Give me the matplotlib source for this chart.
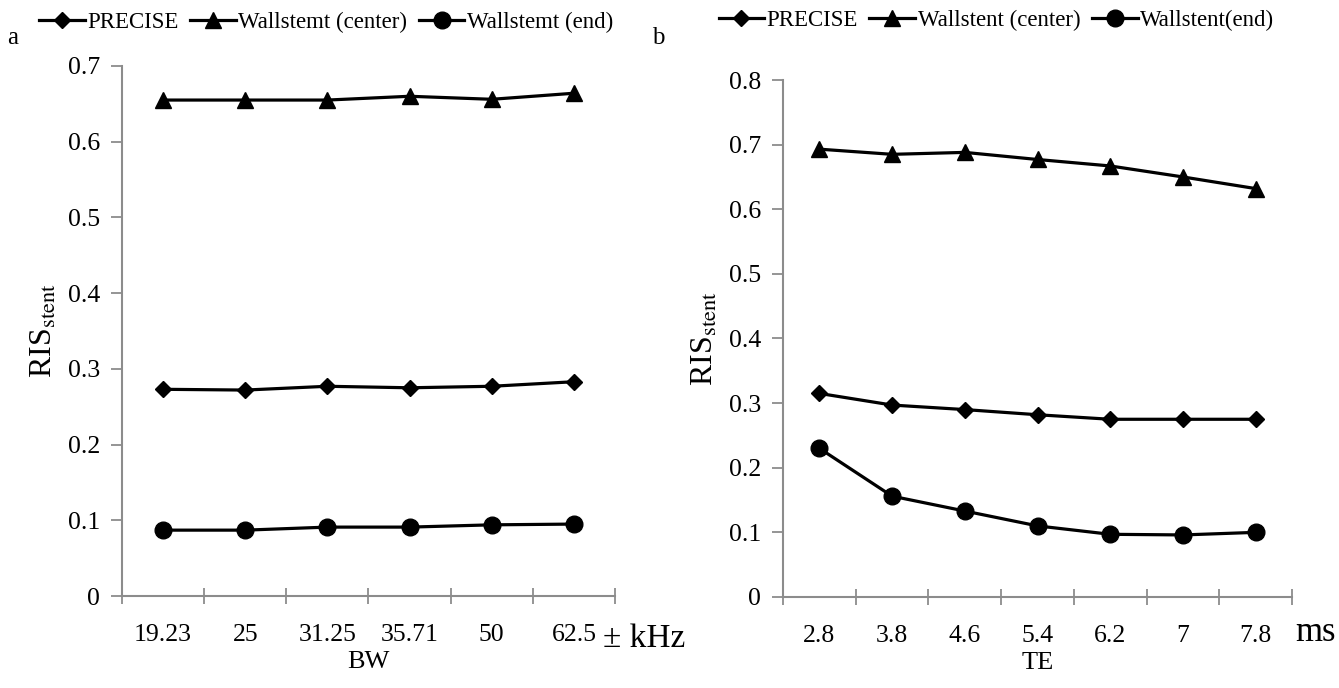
import matplotlib.pyplot as plt
import numpy as np

plt.rcParams["font.family"] = ["Liberation Serif", "DejaVu Serif"]
plt.rcParams["mathtext.fontset"] = "stix"

GRAY = "#8c8c8c"

# panel a: bandwidth
bw_labels = ["19.23", "25", "31.25", "35.71", "50", "62.5"]
bw_precise = [0.273, 0.272, 0.277, 0.275, 0.277, 0.283]
bw_center = [0.655, 0.655, 0.655, 0.660, 0.656, 0.664]
bw_end = [0.087, 0.087, 0.091, 0.091, 0.094, 0.095]

# panel b: echo time
te_labels = ["2.8", "3.8", "4.6", "5.4", "6.2", "7", "7.8"]
te_precise = [0.315, 0.297, 0.290, 0.282, 0.275, 0.275, 0.275]
te_center = [0.693, 0.685, 0.688, 0.677, 0.667, 0.650, 0.632]
te_end = [0.230, 0.156, 0.133, 0.110, 0.097, 0.096, 0.100]


def draw_panel(ax, labels, series, names, ymax, xlabel, unit, unit_pos, unit_size, leg_xy):
    x = np.arange(len(labels))
    markers = [("D", 8), ("^", 11), ("o", 12)]
    for vals, name, (m, ms) in zip(series, names, markers):
        ax.plot(x, vals, color="black", lw=2.3, marker=m, ms=ms, label=name)
    ax.set_xlim(-0.5, len(labels) - 0.5)
    ax.set_ylim(0, ymax)
    ax.set_yticks(np.arange(0, ymax + 0.001, 0.1))
    ax.set_yticklabels(["0"] + [f"{v:.1f}" for v in np.arange(0.1, ymax + 0.001, 0.1)])
    ax.set_xticks(np.arange(-0.5, len(labels)), [""] * (len(labels) + 1))
    ax.set_xticks(x, labels, minor=True)
    ax.tick_params(axis="x", which="major", length=12, width=1.3, color=GRAY, direction="inout")
    ax.tick_params(axis="x", which="minor", length=0, pad=20, labelsize=18.5)
    ax.tick_params(axis="y", length=8, width=1.3, color=GRAY, labelsize=18.5, pad=8)
    for s in ["top", "right"]:
        ax.spines[s].set_visible(False)
    for s in ["left", "bottom"]:
        ax.spines[s].set_color(GRAY)
        ax.spines[s].set_linewidth(1.5)
    ax.set_xlabel(xlabel, fontsize=19, labelpad=4)
    ax.set_ylabel(r"RIS$_{\rm stent}$", fontsize=23, labelpad=6)
    ax.text(unit_pos[0], unit_pos[1], unit, transform=ax.transAxes, fontsize=unit_size,
            ha="left", va="top")
    ax.legend(loc="center", bbox_to_anchor=leg_xy, bbox_transform=ax.figure.transFigure, ncol=3,
              frameon=False, fontsize=16.5, handlelength=2.0, handletextpad=0.1, columnspacing=0.5)


fig = plt.figure(figsize=(13.39, 6.88), dpi=100)
ax1 = fig.add_axes([0.0911, 0.1337, 0.3682, 0.7704])
ax2 = fig.add_axes([0.5848, 0.1323, 0.3801, 0.7514])

draw_panel(ax1, bw_labels, [bw_precise, bw_center, bw_end],
           ["PRECISE", "Wallstemt (center)", "Wallstemt (end)"], 0.7, "BW", "± kHz",
           (0.976, -0.052), 24, (0.2435, 0.967))
draw_panel(ax2, te_labels, [te_precise, te_center, te_end],
           ["PRECISE", "Wallstent (center)", "Wallstent(end)"], 0.8, "TE", "ms",
           (1.006, -0.036), 25, (0.744, 0.970))

fig.text(0.005, 0.945, "a", fontsize=18, va="center")
fig.text(0.487, 0.945, "b", fontsize=18, va="center")

fig.savefig("out.png", dpi=100)
